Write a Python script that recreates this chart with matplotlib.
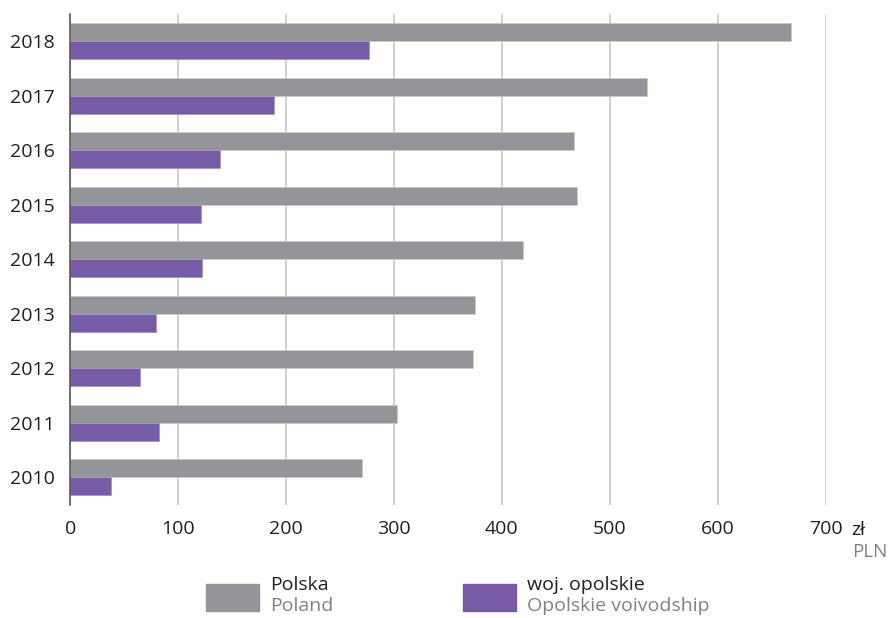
import matplotlib.pyplot as plt
import numpy as np

plt.rcParams["font.family"] = ["Open Sans", "DejaVu Sans"]

years = ["2010", "2011", "2012", "2013", "2014", "2015", "2016", "2017", "2018"]
polska = [270, 303, 373, 375, 420, 470, 467, 535, 668]
opolskie = [38, 82.5, 65, 79, 122, 121, 139, 189, 277]

gray = "#939598"
purple = "#765ba7"
text_dark = "#231f20"
text_gray = "#808285"

fig = plt.figure(figsize=(8.88, 6.18), dpi=100)
ax = fig.add_axes([70.3 / 888, 1 - 505 / 618, (825.5 - 70.3) / 888, (505 - 14) / 618])

y = np.arange(len(years))
h = 0.33
ax.barh(y + h / 2, polska, height=h, color=gray, edgecolor="#c9cacc", linewidth=0.6, zorder=3)
ax.barh(y - h / 2, opolskie, height=h, color=purple, edgecolor="#a894cc", linewidth=0.6, zorder=3)

ax.set_xlim(0, 700)
ax.set_ylim(-0.51, 8.5)
ax.set_xticks(range(0, 701, 100))
ax.set_yticks(y)
ax.set_yticklabels(years)
ax.tick_params(axis="both", length=0, labelsize=14, labelcolor=text_dark)
ax.tick_params(axis="y", pad=11)
ax.tick_params(axis="x", pad=11)

ax.grid(axis="x", color="#c4c4c6", linewidth=1.1, zorder=0)
for s in ["top", "right", "bottom"]:
    ax.spines[s].set_visible(False)
ax.spines["left"].set_color("#4d4d4f")
ax.spines["left"].set_linewidth(1.1)
ax.spines["left"].set_zorder(4)

# unit labels
fig.text(851 / 888, 1 - 530 / 618, "zł", fontsize=14, color=text_dark, va="center", ha="left")
fig.text(852 / 888, 1 - 552 / 618, "PLN", fontsize=13.5, color=text_gray, va="center", ha="left")

# legend
fig.patches.append(plt.Rectangle((206 / 888, 1 - 611 / 618), 53 / 888, 27 / 618,
                                 transform=fig.transFigure, color=gray))
fig.patches.append(plt.Rectangle((463 / 888, 1 - 611 / 618), 53 / 888, 27 / 618,
                                 transform=fig.transFigure, color=purple))
fig.text(270 / 888, 1 - 585 / 618, "Polska", fontsize=14, color=text_dark, va="center", ha="left")
fig.text(270 / 888, 1 - 606 / 618, "Poland", fontsize=14, color=text_gray, va="center", ha="left")
fig.text(527 / 888, 1 - 585 / 618, "woj. opolskie", fontsize=14, color=text_dark, va="center", ha="left")
fig.text(527 / 888, 1 - 606 / 618, "Opolskie voivodship", fontsize=14, color=text_gray, va="center", ha="left")

fig.savefig("out.png", dpi=100)
